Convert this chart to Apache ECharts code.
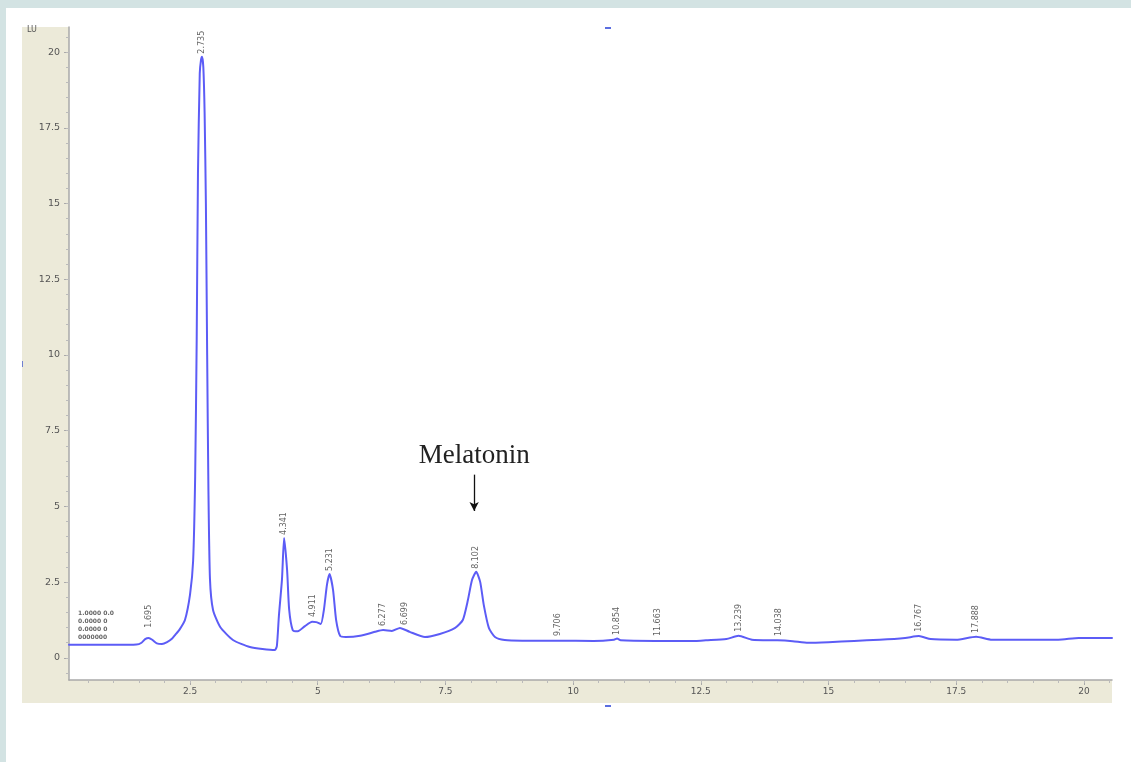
<!DOCTYPE html>
<html>
<head>
<meta charset="utf-8">
<script src="https://cdn.jsdelivr.net/npm/echarts@6/dist/echarts.min.js"></script>
<style>
html,body{margin:0;padding:0;background:#d3e3e3;}
#c{width:1131px;height:762px;}
</style>
</head>
<body>
<div id="c"></div>
<script>
// Retention time (min) and detector signal (LU)
var time = [0.13,0.5,1.0,1.45,1.55,1.62,1.69,1.76,1.85,1.95,2.05,2.15,2.21,2.30,2.40,2.50,2.56,2.60,2.63,2.655,2.69,2.715,2.735,2.76,2.785,2.81,2.835,2.86,2.89,2.95,3.09,3.34,3.67,4.16,4.20,4.24,4.30,4.341,4.40,4.44,4.51,4.61,4.75,4.89,4.97,5.06,5.12,5.18,5.231,5.30,5.36,5.44,5.55,5.83,6.12,6.28,6.45,6.61,6.80,7.10,7.39,7.69,7.84,7.94,8.02,8.102,8.18,8.25,8.35,8.47,8.66,9.0,9.7,10.4,10.80,10.86,10.93,11.6,12.4,12.6,13.0,13.24,13.5,14.0,14.3,14.6,15.0,15.5,16.0,16.5,16.77,17.0,17.5,17.89,18.2,19.0,19.5,19.9,20.55];
var signal = [0.43,0.43,0.43,0.44,0.50,0.62,0.66,0.60,0.48,0.46,0.52,0.64,0.76,0.95,1.25,2.1,3.2,6.0,10.5,16.0,19.3,19.75,19.85,19.5,18.0,15.0,10.0,5.5,2.6,1.58,1.02,0.59,0.36,0.26,0.40,1.4,2.6,3.96,2.9,1.6,0.92,0.88,1.05,1.19,1.18,1.12,1.58,2.41,2.77,2.24,1.25,0.72,0.69,0.73,0.86,0.92,0.89,0.99,0.86,0.69,0.79,0.99,1.25,1.91,2.57,2.84,2.51,1.75,0.99,0.69,0.59,0.57,0.57,0.56,0.60,0.64,0.58,0.56,0.56,0.58,0.62,0.73,0.60,0.58,0.55,0.50,0.52,0.56,0.60,0.66,0.72,0.62,0.60,0.70,0.60,0.60,0.60,0.66,0.66];
// Peak retention-time labels and the signal height they sit on
var peakTimes = [1.695,2.735,4.341,4.911,5.231,6.277,6.699,8.102,9.706,10.854,11.663,13.239,14.038,16.767,17.888];
var peakLabels = ["1.695","2.735","4.341","4.911","5.231","6.277","6.699","8.102","9.706","10.854","11.663","13.239","14.038","16.767","17.888"];
var peakLabelY = [0.9,19.85,3.96,1.25,2.77,0.95,0.99,2.84,0.62,0.66,0.62,0.76,0.62,0.76,0.72];
var xTicks = [2.5,5,7.5,10,12.5,15,17.5,20];
var yTicks = [0,2.5,5,7.5,10,12.5,15,17.5,20];
var xMinor = [], yMinor = [];
for (var i = 1; i <= 41; i++) xMinor.push(+(i*0.5).toFixed(1));
for (var j = -1; j <= 41; j++) yMinor.push(+(j*0.5).toFixed(1));
var melatoninTime = 8.102;

var lineData = time.map(function(t,k){return [t, signal[k]];});
var labelData = peakTimes.map(function(t,k){return {value:[t, peakLabelY[k]], name:peakLabels[k]};});

var chart = echarts.init(document.getElementById('c'));
var axisGray = '#a9a9a9';
chart.setOption({
  backgroundColor: '#d3e3e3',
  animation: false,
  graphic: [
    {type:'rect', z:-10, shape:{x:6,y:8,width:1125,height:754}, style:{fill:'#ffffff'}},
    {type:'rect', z:-9, shape:{x:22,y:27,width:47,height:676}, style:{fill:'#ecead9'}},
    {type:'rect', z:-9, shape:{x:69,y:680,width:1043,height:23}, style:{fill:'#ecead9'}},
    {type:'text', z:5, style:{x:27,y:26,text:'LU',fontSize:8,fill:'#555',fontFamily:'DejaVu Sans'}},
    {type:'rect', z:5, shape:{x:605,y:27,width:6,height:2}, style:{fill:'#5b6ee0'}},
    {type:'rect', z:5, shape:{x:605,y:705,width:6,height:2}, style:{fill:'#5b6ee0'}},
    {type:'rect', z:5, shape:{x:22,y:361,width:1,height:6}, style:{fill:'#7080d0'}},
    {type:'text', z:5, style:{x:78,y:609,text:'1.0000 0.0\n0.0000 0\n0.0000 0\n0000000',fontSize:6,lineHeight:8,fontWeight:'bold',fill:'#666',fontFamily:'DejaVu Sans'}}
  ],
  grid: {left:69, top:27, right:19, bottom:82, show:false},
  xAxis: [{
    type:'value', min:0.13, max:20.55,
    axisLine:{show:true, onZero:false, lineStyle:{color:axisGray, width:1.5}},
    axisTick:{show:true, customValues:xTicks, length:5, lineStyle:{color:axisGray}},
    axisLabel:{customValues:xTicks, color:'#555', fontSize:9, margin:7, fontFamily:'DejaVu Sans',
      formatter:function(v){return String(v);}},
    splitLine:{show:false}
  },{
    type:'value', min:0.13, max:20.55, position:'bottom',
    axisLine:{show:false, onZero:false},
    axisTick:{show:true, customValues:xMinor, length:3, lineStyle:{color:'#bbbbbb'}},
    axisLabel:{show:false},
    splitLine:{show:false}
  }],
  yAxis: [{
    type:'value', min:-0.73, max:20.83,
    axisLine:{show:true, onZero:false, lineStyle:{color:axisGray, width:1.5}},
    axisTick:{show:true, customValues:yTicks, length:5, lineStyle:{color:axisGray}},
    axisLabel:{customValues:yTicks, color:'#555', fontSize:9.5, margin:9, fontFamily:'DejaVu Sans',
      formatter:function(v){return String(v);}},
    splitLine:{show:false}
  },{
    type:'value', min:-0.73, max:20.83, position:'left',
    axisLine:{show:false, onZero:false},
    axisTick:{show:true, customValues:yMinor, length:3, lineStyle:{color:'#bbbbbb'}},
    axisLabel:{show:false},
    splitLine:{show:false}
  }],
  series: [{
    type:'line', xAxisIndex:0, yAxisIndex:0,
    data: lineData, smooth:0.2, showSymbol:false, symbol:'none',
    lineStyle:{color:'#5c5cf6', width:2, join:'round', cap:'round'},
    z:3,
    markLine:{
      silent:true, symbol:['none','arrow'], symbolSize:[7,9],
      lineStyle:{color:'#111', width:1.3, type:'solid'},
      label:{show:true, position:'start', formatter:'Melatonin', fontFamily:'Liberation Serif', fontSize:27, color:'#222', distance:5},
      data:[[{coord:[melatoninTime-0.04, 6.05]},{coord:[melatoninTime-0.04, 4.85]}]]
    }
  },{
    type:'scatter', xAxisIndex:0, yAxisIndex:0,
    data: labelData, symbolSize:0, z:4,
    label:{show:true, position:'top', distance:3, rotate:90, align:'left', verticalAlign:'middle',
      formatter:function(p){return p.name;}, fontSize:8, color:'#3a3a3a', fontFamily:'DejaVu Sans'}
  }]
});
</script>
</body>
</html>
